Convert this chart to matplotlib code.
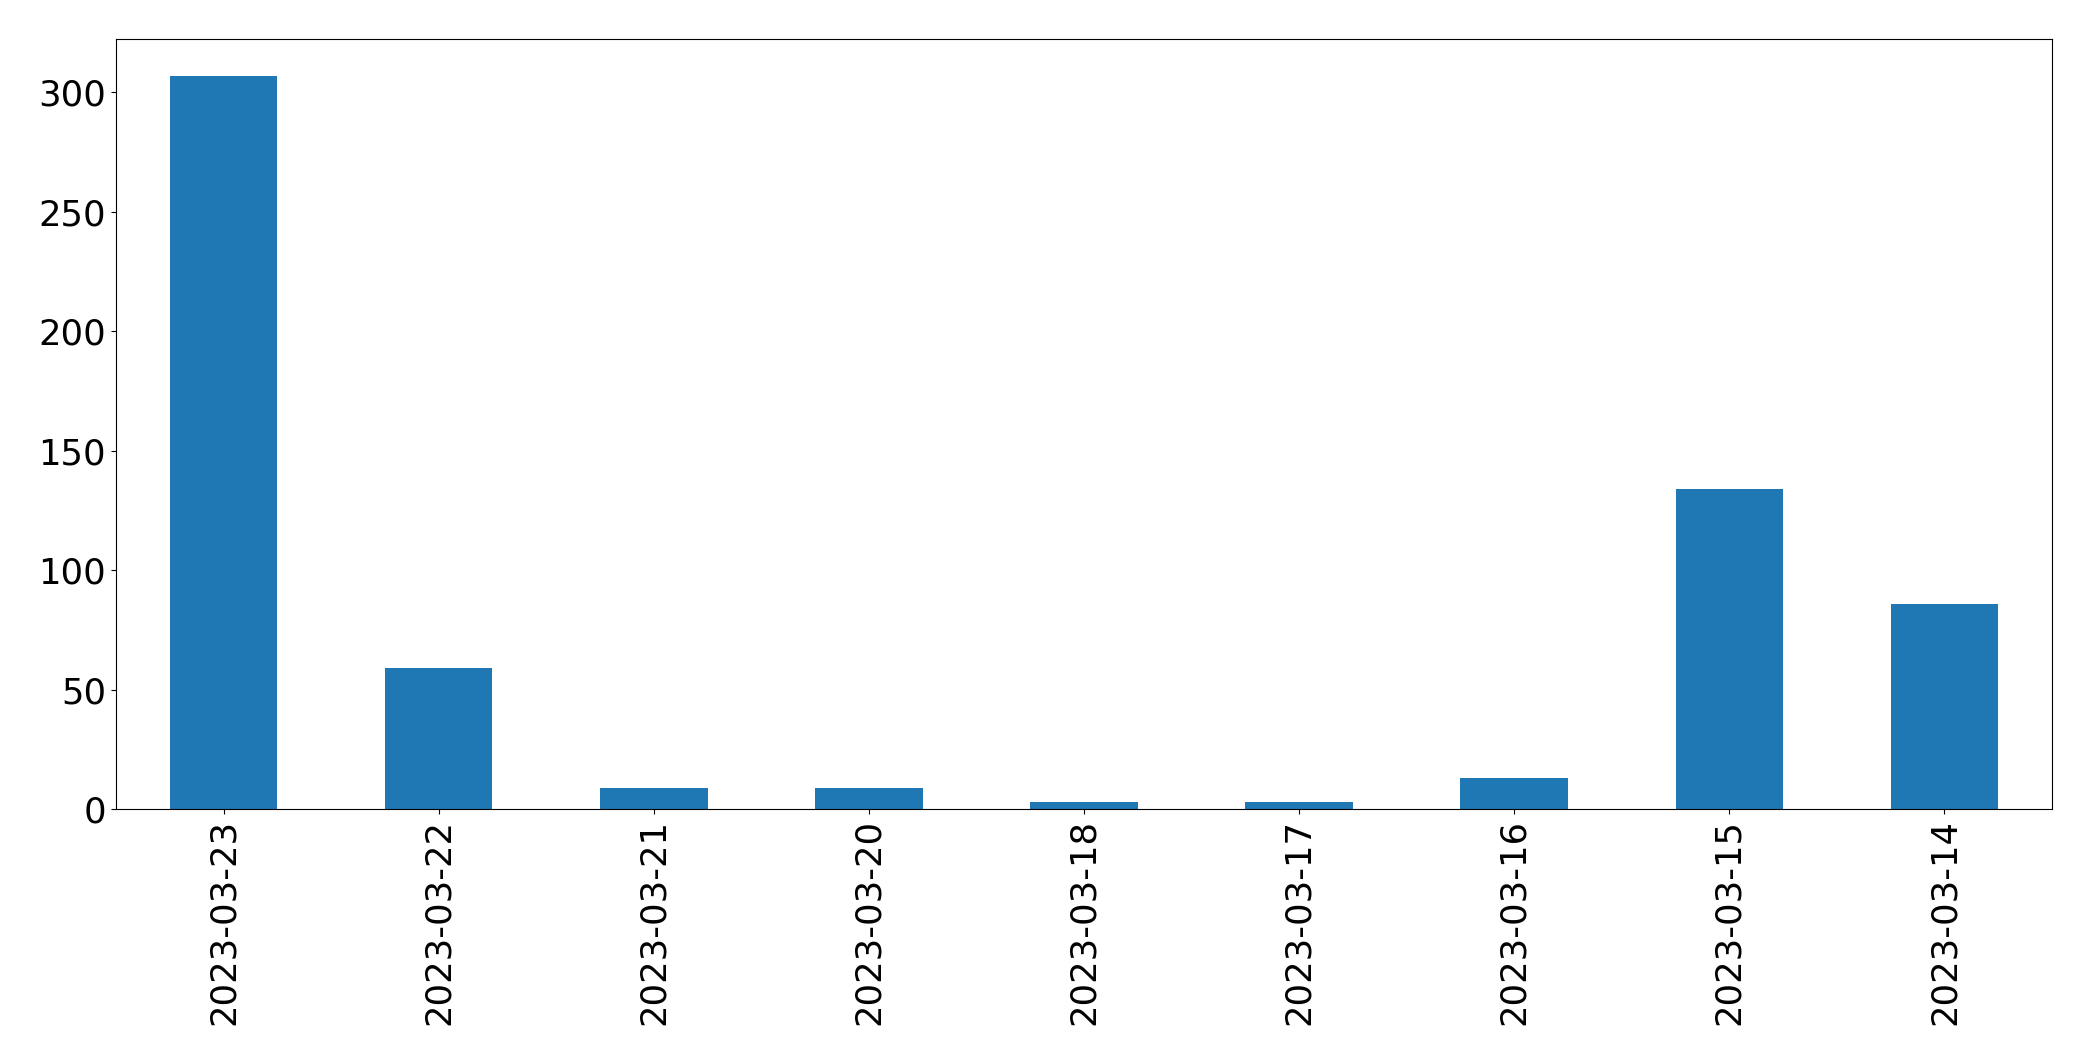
import matplotlib
matplotlib.use("Agg")
import matplotlib.pyplot as plt

datas = ["2023-03-23", "2023-03-22", "2023-03-21", "2023-03-20", "2023-03-18",
         "2023-03-17", "2023-03-16", "2023-03-15", "2023-03-14"]  # eixo X
valores = [307, 59, 9, 9, 3, 3, 13, 134, 86]  # altura das barras

fig = plt.figure(figsize=(20.93, 10.61), dpi=100)
ax = fig.add_axes([0.0554, 0.2375, 0.925, 0.7257])

posicoes = list(range(len(datas)))
ax.bar(posicoes, valores, width=0.5, color="#1f77b4")
ax.set_xticks(posicoes)
ax.set_xticklabels(datas, rotation=90)
ax.set_xlim(-0.5, len(datas) - 0.5)
ax.tick_params(axis="both", labelsize=25.5)

fig.savefig("out.png", dpi=100)
